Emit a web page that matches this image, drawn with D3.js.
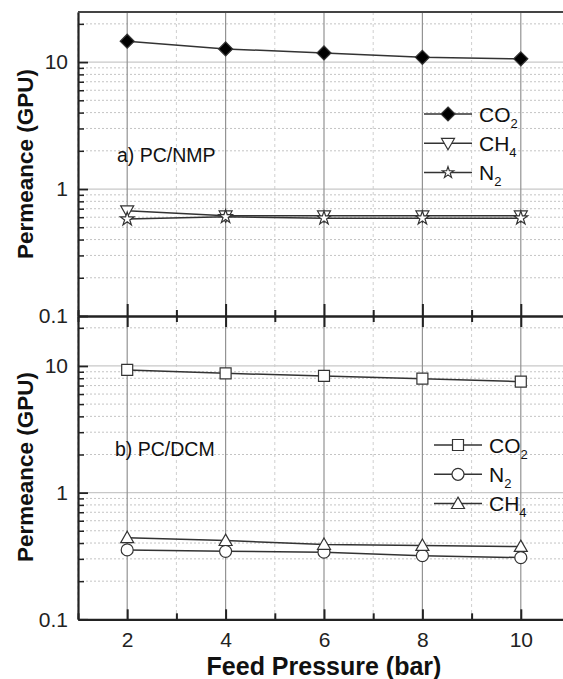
<!DOCTYPE html>
<html>
<head>
<meta charset="utf-8">
<script src="https://cdn.jsdelivr.net/npm/d3@7"></script>
<style>
  body { margin: 0; background: #fff; }
  svg { display: block; font-family: "Liberation Sans", Arial, sans-serif; }
  .axis path, .axis line { stroke: #222; }
  .axis text { font-size: 21px; fill: #222; }
</style>
</head>
<body>
<div id="chart"></div>
<script>
// Permeance vs feed pressure, two stacked panels (log y)

const pressures = [2, 4, 6, 8, 10];

// a) PC/NMP
const nmpCO2 = [14.6, 12.7, 11.8, 10.9, 10.6];
const nmpCH4 = [0.675, 0.615, 0.615, 0.615, 0.615];
const nmpN2 = [0.58, 0.605, 0.59, 0.59, 0.59];

// b) PC/DCM
const dcmCO2 = [9.3, 8.75, 8.34, 7.94, 7.52];
const dcmN2 = [0.353, 0.344, 0.339, 0.318, 0.307];
const dcmCH4 = [0.44, 0.418, 0.39, 0.382, 0.375];

const xTicks = [2, 4, 6, 8, 10];
const xMinorTicks = [1, 3, 5, 7, 9, 11];
const yTicks = [0.1, 1, 10];

const width = 563, height = 679;
const left = 78, right = 570;

const svg = d3.select('#chart').append('svg')
    .attr('width', width)
    .attr('height', height);

const x = d3.scaleLinear().domain([1, 11]).range([left, right]);

// marker shapes
function marker(type, r) {
    if (type === 'diamond') return `M0,${-r}L${r},0L0,${r}L${-r},0Z`;
    if (type === 'square') return `M${-r},${-r}H${r}V${r}H${-r}Z`;
    if (type === 'circle') return d3.symbol(d3.symbolCircle, Math.PI * r * r)();
    if (type === 'up') return `M0,${-r}L${r},${r * 0.75}L${-r},${r * 0.75}Z`;
    if (type === 'down') return `M0,${r}L${r},${-r * 0.75}L${-r},${-r * 0.75}Z`;
    if (type === 'star') return d3.symbol(d3.symbolStar, r * r * 1.6)();
}

function drawPanel(cfg) {
    const y = d3.scaleLog().domain([0.1, 24.8]).range([cfg.bottom, cfg.top]);
    const g = svg.append('g');

    const allY = y.ticks();
    const minorY = allY.filter(v => !yTicks.some(t => Math.abs(t - v) < 1e-9));

    // grid: minor
    g.selectAll('.ygm').data(minorY).enter().append('line')
        .attr('x1', left).attr('x2', right)
        .attr('y1', d => y(d)).attr('y2', d => y(d))
        .attr('stroke', '#c4c4c4').attr('stroke-width', 1)
        .attr('stroke-dasharray', '2,2');
    g.selectAll('.xgm').data(xMinorTicks).enter().append('line')
        .attr('x1', d => x(d)).attr('x2', d => x(d))
        .attr('y1', cfg.top).attr('y2', cfg.bottom)
        .attr('stroke', '#cfcfcf').attr('stroke-width', 1)
        .attr('stroke-dasharray', '3,3');

    // grid: major
    g.selectAll('.ygM').data([1, 10]).enter().append('line')
        .attr('x1', left).attr('x2', right)
        .attr('y1', d => y(d)).attr('y2', d => y(d))
        .attr('stroke', '#c8c8c8').attr('stroke-width', 1.2);
    g.selectAll('.xgM').data(xTicks).enter().append('line')
        .attr('x1', d => x(d)).attr('x2', d => x(d))
        .attr('y1', cfg.top).attr('y2', cfg.bottom)
        .attr('stroke', '#939393').attr('stroke-width', 1.2);

    // left axis
    const yAxis = d3.axisLeft(y)
        .tickValues(cfg.yLabels)
        .tickFormat(d => d >= 1 ? d3.format('d')(d) : '0.1')
        .tickSize(-10).tickSizeOuter(0).tickPadding(10);
    const ya = g.append('g').attr('class', 'axis')
        .attr('transform', `translate(${left},0)`)
        .call(yAxis);
    ya.select('.domain').attr('stroke-width', 2.2);
    ya.selectAll('line').attr('stroke-width', 1.8);

    g.append('g').attr('class', 'axis')
        .attr('transform', `translate(${left},0)`)
        .call(d3.axisLeft(y).tickValues(minorY).tickFormat('').tickSize(-6).tickSizeOuter(0))
        .call(s => s.select('.domain').remove())
        .selectAll('line').attr('stroke-width', 1.5);

    // series
    cfg.series.forEach(s => {
        const pts = pressures.map((p, i) => [p, s.values[i]]);
        const line = d3.line().x(d => x(d[0])).y(d => y(d[1]));
        g.append('path')
            .datum(pts)
            .attr('fill', 'none')
            .attr('stroke', '#333')
            .attr('stroke-width', 1.5)
            .attr('d', line);
        g.selectAll(null).data(pts).enter().append('path')
            .attr('transform', d => `translate(${x(d[0])},${y(d[1])})`)
            .attr('d', marker(s.shape, s.r))
            .attr('fill', s.fill)
            .attr('stroke', '#333')
            .attr('stroke-width', 1.2);
    });

    // panel label
    g.append('text')
        .attr('x', cfg.labelX).attr('y', cfg.labelY)
        .attr('font-size', 19.5).attr('fill', '#111')
        .text(cfg.label);

    // legend
    cfg.series.forEach((s, i) => {
        const ly = cfg.legend.y + i * 29.3;
        const lg = g.append('g').attr('transform', `translate(${cfg.legend.x},${ly})`);
        lg.append('line').attr('x1', 0).attr('x2', 48).attr('stroke', '#333').attr('stroke-width', 1.5);
        lg.append('path').attr('transform', 'translate(24,0)')
            .attr('d', marker(s.shape, s.legendR))
            .attr('fill', s.fill).attr('stroke', '#333').attr('stroke-width', 1.2);
        const t = lg.append('text').attr('x', 55).attr('y', 7.5)
            .attr('font-size', 21).attr('fill', '#111');
        t.append('tspan').text(s.name);
        t.append('tspan').attr('font-size', 13).attr('dy', 6).text(s.sub);
    });

    return y;
}

drawPanel({
    top: 12, bottom: 316,
    yLabels: [0.1, 1, 10],
    label: 'a) PC/NMP', labelX: 117, labelY: 162,
    legend: { x: 424, y: 114 },
    series: [
        { name: 'CO', sub: '2', values: nmpCO2, shape: 'diamond', r: 7, legendR: 7, fill: '#000' },
        { name: 'CH', sub: '4', values: nmpCH4, shape: 'down', r: 6.5, legendR: 6.5, fill: '#fff' },
        { name: 'N', sub: '2', values: nmpN2, shape: 'star', r: 6, legendR: 5, fill: '#fff' }
    ]
});

drawPanel({
    top: 316, bottom: 619.3,
    yLabels: [0.1, 1, 10],
    label: 'b) PC/DCM', labelX: 115, labelY: 456,
    legend: { x: 434, y: 445 },
    series: [
        { name: 'CO', sub: '2', values: dcmCO2, shape: 'square', r: 5.5, legendR: 5.5, fill: '#fff' },
        { name: 'N', sub: '2', values: dcmN2, shape: 'circle', r: 6, legendR: 6, fill: '#fff' },
        { name: 'CH', sub: '4', values: dcmCH4, shape: 'up', r: 6.5, legendR: 6.5, fill: '#fff' }
    ]
});

// top frame line
svg.append('line').attr('x1', left).attr('x2', right).attr('y1', 12).attr('y2', 12)
    .attr('stroke', '#444').attr('stroke-width', 1.8);

// shared boundary axis, ticks both ways
const mid = svg.append('g').attr('class', 'axis').attr('transform', 'translate(0,316)');
mid.call(d3.axisBottom(x).tickValues(xTicks).tickFormat('').tickSize(-12).tickSizeOuter(0))
    .call(s => s.select('.domain').attr('stroke-width', 2.4));
mid.append('g').call(d3.axisBottom(x).tickValues(xTicks).tickFormat('').tickSize(11).tickSizeOuter(0))
    .call(s => s.select('.domain').remove());
mid.append('g').call(d3.axisBottom(x).tickValues(xMinorTicks).tickFormat('').tickSize(6).tickSizeOuter(0))
    .call(s => s.select('.domain').remove());
mid.append('g').call(d3.axisBottom(x).tickValues(xMinorTicks).tickFormat('').tickSize(-6).tickSizeOuter(0))
    .call(s => s.select('.domain').remove());
mid.selectAll('line').attr('stroke-width', 2);

// bottom x axis
const bx = svg.append('g').attr('class', 'axis').attr('transform', 'translate(0,619.3)');
bx.call(d3.axisBottom(x).tickValues(xTicks).tickSize(-10).tickSizeOuter(0).tickPadding(13))
    .call(s => s.select('.domain').attr('stroke-width', 2.2));
bx.append('g').call(d3.axisBottom(x).tickValues(xMinorTicks).tickFormat('').tickSize(-6).tickSizeOuter(0))
    .call(s => s.select('.domain').remove());
bx.selectAll('line').attr('stroke-width', 2);

// axis titles
svg.append('text')
    .attr('x', (left + right) / 2).attr('y', 675)
    .attr('text-anchor', 'middle')
    .attr('font-size', 25).attr('font-weight', 'bold').attr('fill', '#111')
    .text('Feed Pressure (bar)');

[164, 467].forEach(cy => {
    svg.append('text')
        .attr('transform', `translate(33,${cy}) rotate(-90)`)
        .attr('text-anchor', 'middle')
        .attr('font-size', 22.5).attr('font-weight', 'bold').attr('fill', '#111')
        .text('Permeance (GPU)');
});
</script>
</body>
</html>
